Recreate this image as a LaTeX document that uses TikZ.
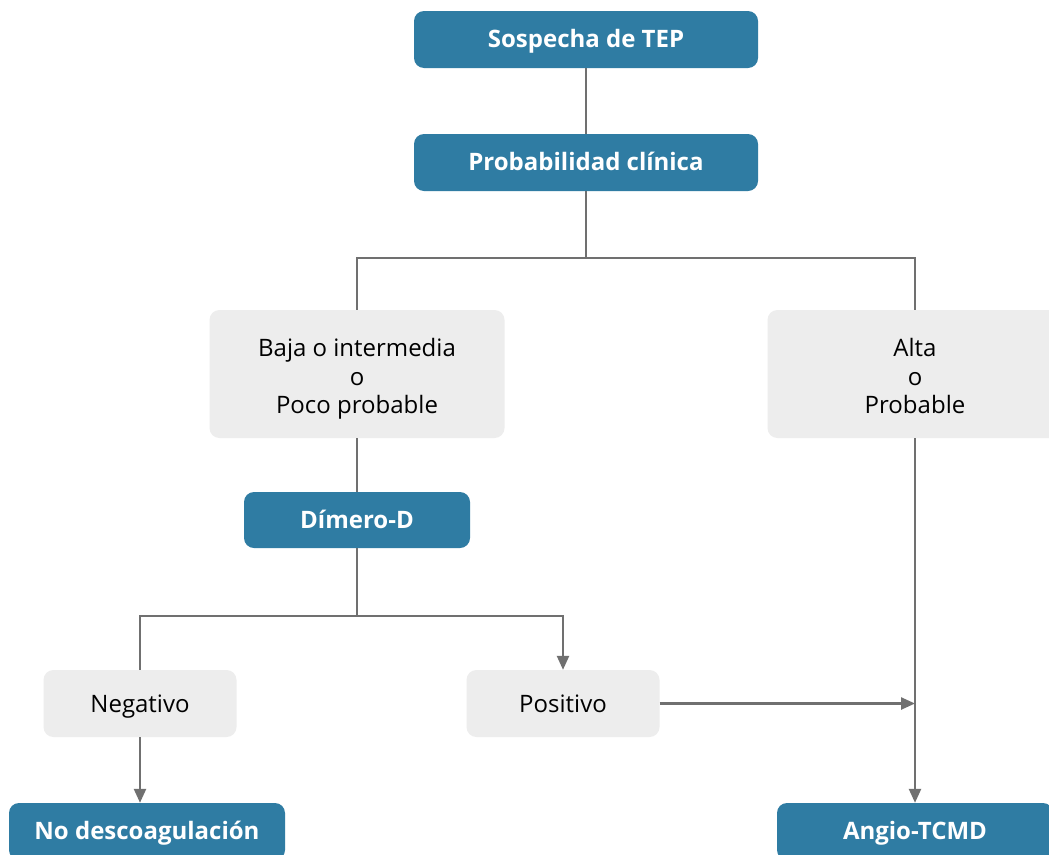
\documentclass[tikz,border=0pt]{standalone}
\usepackage{fontspec}
\setmainfont{Open Sans}
\usetikzlibrary{arrows.meta,positioning}
\definecolor{stepblue}{HTML}{2F7CA3}
\definecolor{optgray}{HTML}{EDEDED}
\definecolor{linegray}{HTML}{707070}
% three centred lines, set a little below the middle of their box
\newcommand{\threelines}[3]{\raisebox{-5.3pt}[\height][\depth]{%
  \begin{tabular}{@{}c@{}}#1\\#2\\#3\end{tabular}}}
\tikzset{
  bluebox/.style={rectangle, rounded corners=10pt, fill=stepblue, text=white,
    font=\fontsize{24}{28}\selectfont\bfseries, inner sep=0pt,
    text height=17.5pt, text depth=1pt},
  graybox/.style={rectangle, rounded corners=10pt, fill=optgray, text=black,
    font=\fontsize{24}{28.5}\selectfont, inner sep=0pt},
  singleline/.style={text height=18pt, text depth=1pt},
  link/.style={draw=linegray, line width=2.4pt},
  arrowlink/.style={link, -{Triangle[length=14pt,width=12pt]}},
}
\begin{document}
\begin{tikzpicture}[x=1pt,y=-1pt]
\useasboundingbox (0,0) rectangle (1049,854);
\clip (0,0) rectangle (1049,854);
\fill[white] (0,0) rectangle (1049,854);

% main decision steps
\node[bluebox, minimum width=344, minimum height=57] (sosp) at (586,39.5) {Sospecha de TEP};
\node[bluebox, minimum width=344, minimum height=57] (prob) at (586,162.5) {Probabilidad clínica};
\node[graybox, minimum width=295, minimum height=128] (baja) at (357,374)
  {\threelines{Baja o intermedia}{o}{Poco probable}};
\node[graybox, minimum width=295, minimum height=128] (alta) at (915,374)
  {\threelines{Alta}{o}{Probable}};
\node[bluebox, minimum width=226, minimum height=56] (dimero) at (357,520) {Dímero-D};
\node[graybox, singleline, minimum width=193, minimum height=67] (neg) at (140,703.5) {Negativo};
\node[graybox, singleline, minimum width=193, minimum height=67] (pos) at (563,703.5) {Positivo};
\node[bluebox, minimum width=276, minimum height=57] (nodesc) at (147,831.5) {No descoagulación};
\node[bluebox, minimum width=276, minimum height=57] (angio) at (915,831.5) {Angio-TCMD};

% branching points
\coordinate (split1) at (586,258);
\coordinate (split2) at (357,616);
\coordinate (merge) at (pos.east -| alta.south);

% connectors
\draw[link] (sosp.south) -- (prob.north);
\draw[link] (prob.south) -- (split1);
\draw[link] (split1) -| (baja.north);
\draw[link] (split1) -| (alta.north);
\draw[link] (baja.south) -- (dimero.north);
\draw[link] (dimero.south) -- (split2);
\draw[link] (split2) -| (neg.north);
\draw[arrowlink] (split2) -| (pos.north);
\draw[arrowlink] (neg.south) -- (neg.south |- nodesc.north);
\draw[arrowlink] (pos.east) -- (merge);
\draw[arrowlink] (alta.south) -- (angio.north);
\end{tikzpicture}
\end{document}
